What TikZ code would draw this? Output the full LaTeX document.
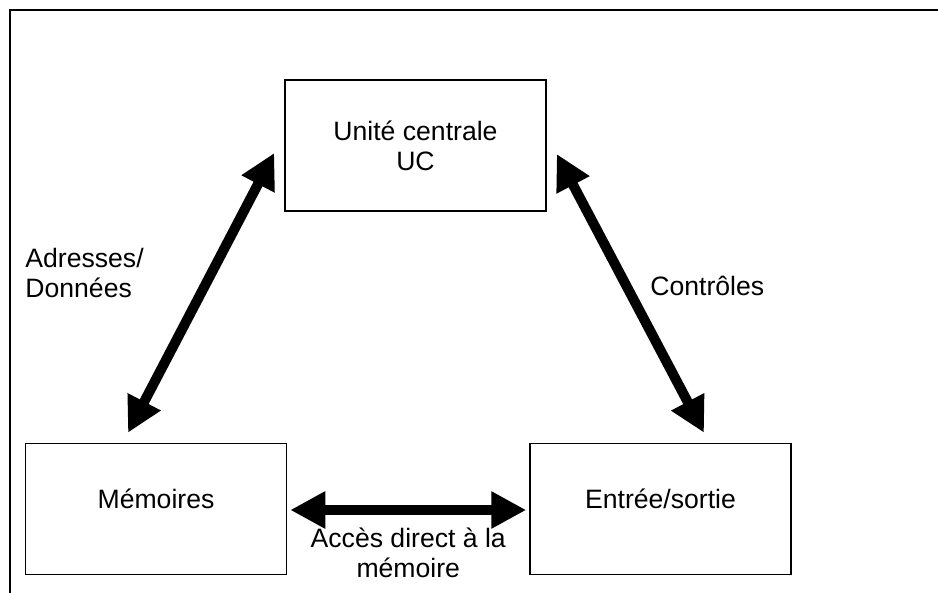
\documentclass[tikz,border=0pt]{standalone}
\usepackage{fontspec}
\setmainfont{Liberation Sans}
\usetikzlibrary{arrows.meta}

\begin{document}
\begin{tikzpicture}[x=0.5pt,y=-0.5pt,font=\fontsize{13.3}{15}\selectfont]
\tikzstyle{block}=[rectangle, draw=black, line width=0.75pt, minimum width=130.5pt, minimum height=65.5pt, inner sep=0pt, align=center]
\tikzstyle{oneline}=[text height=7pt, text depth=7pt]
\tikzstyle{bus}=[line width=5pt, {Triangle[length=17.5pt,width=17.5pt]}-{Triangle[length=17.5pt,width=17.5pt]}]
\tikzstyle{labeltext}=[inner sep=0pt]

\useasboundingbox (0,0) rectangle (938,593);

% frame
\draw[line width=0.9pt] (938,10) -- (10,10) -- (10,593);

% blocks
\node[block] (uc) at (415.5,145.5) {Unité centrale\\UC};
\node[block, oneline] (mem) at (156,509) {Mémoires};
\node[block, oneline] (io) at (660.5,509) {Entrée/sortie};

% buses
\draw[bus] ([shift={(-28,-10)}]mem.north) -- ([shift={(-10,7.5)}]uc.west);
\draw[bus] ([shift={(10,8.5)}]uc.east) -- ([shift={(43.5,-10)}]io.north);
\draw[bus] ([shift={(3,1)}]mem.east) -- node[labeltext, below=6.5pt, align=center] (acc) {Accès direct à la\\mémoire} ([shift={(-3,1)}]io.west);

% labels
\node[labeltext, anchor=north west, align=left] (adr) at (25,248) {Adresses/\\Données};
\node[labeltext, anchor=base west] (ctrl) at (650,296) {Contrôles};
\end{tikzpicture}
\end{document}
